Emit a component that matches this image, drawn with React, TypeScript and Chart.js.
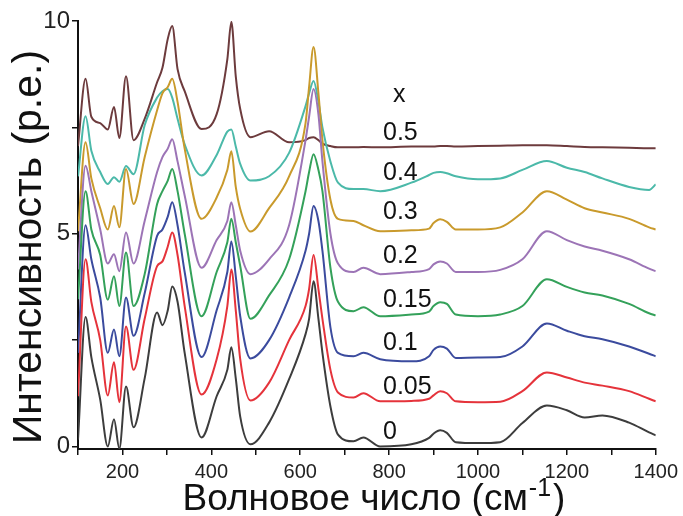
import React, { useEffect, useRef } from 'react';
import { Chart, registerables } from 'chart.js';

Chart.register(...registerables);

// ---- data ----
const wavenumbers = [100, 117, 130, 150, 167, 181, 193, 208, 225, 250, 278, 290, 302, 312, 324, 340, 378, 412, 436, 445, 455, 465, 488, 530, 575, 612, 620, 630, 641, 650, 668, 685, 720, 742, 780, 850, 890, 900, 915, 930, 950, 1000, 1050, 1100, 1155, 1200, 1240, 1280, 1340, 1385, 1400];

const spectrumX000 = [0.16, 3.04, 2.1, 1.1, 0.0, 0.64, -0.05, 1.41, 0.45, 1.6, 3.15, 2.85, 3.2, 3.76, 3.4, 2.2, 0.21, 1.18, 1.8, 2.33, 1.6, 0.7, 0.05, 0.56, 1.58, 2.64, 3.0, 3.88, 3.0, 2.2, 0.94, 0.28, 0.12, 0.21, 0.0, 0.05, 0.2, 0.3, 0.38, 0.32, 0.1, 0.08, 0.1, 0.55, 0.96, 0.85, 0.68, 0.73, 0.56, 0.33, 0.26];
const spectrumX005 = [1.18, 4.4, 3.4, 2.5, 1.2, 1.98, 1.04, 2.82, 1.8, 3.0, 4.24, 4.35, 4.7, 5.03, 4.5, 3.3, 1.22, 2.05, 3.3, 4.16, 3.2, 2.05, 1.08, 1.5, 2.5, 3.3, 3.7, 4.5, 3.7, 3.0, 1.8, 1.27, 1.15, 1.25, 1.06, 1.07, 1.12, 1.2, 1.3, 1.25, 1.06, 1.04, 1.05, 1.3, 1.74, 1.62, 1.5, 1.43, 1.3, 1.12, 1.06];
const spectrumX010 = [2.2, 5.2, 4.4, 3.5, 2.2, 2.75, 2.12, 3.5, 2.6, 3.6, 4.95, 5.1, 5.4, 5.74, 5.2, 4.1, 2.1, 3.2, 4.1, 4.82, 4.0, 3.06, 2.07, 2.5, 3.5, 4.6, 5.0, 5.65, 5.3, 4.6, 2.8, 2.2, 2.12, 2.2, 2.05, 2.0, 2.12, 2.27, 2.35, 2.3, 2.08, 2.09, 2.1, 2.35, 2.89, 2.72, 2.59, 2.52, 2.35, 2.18, 2.12];
const spectrumX015 = [3.46, 6.0, 5.1, 4.5, 3.45, 4.0, 3.3, 4.56, 3.3, 4.05, 5.7, 6.0, 6.25, 6.52, 6.0, 5.0, 3.06, 4.1, 4.8, 5.35, 4.8, 4.24, 3.0, 3.55, 4.4, 6.0, 6.45, 6.87, 6.5, 6.0, 4.2, 3.4, 3.18, 3.27, 3.06, 3.1, 3.17, 3.3, 3.39, 3.35, 3.1, 3.06, 3.1, 3.3, 3.93, 3.75, 3.62, 3.55, 3.35, 3.13, 3.08];
const spectrumX020 = [4.16, 6.6, 6.0, 5.1, 4.3, 4.52, 4.12, 5.03, 4.3, 5.3, 6.45, 6.8, 7.0, 7.22, 6.7, 5.9, 4.2, 4.85, 5.3, 5.74, 5.2, 4.6, 4.05, 4.4, 5.2, 7.2, 7.75, 8.4, 7.8, 6.7, 5.0, 4.3, 4.1, 4.2, 4.05, 4.1, 4.17, 4.28, 4.35, 4.3, 4.1, 4.1, 4.15, 4.4, 5.06, 4.85, 4.7, 4.6, 4.4, 4.18, 4.12];
const spectrumX030 = [5.06, 7.15, 6.3, 5.6, 5.1, 5.65, 5.15, 6.52, 5.7, 6.8, 7.9, 8.3, 8.45, 8.64, 8.1, 7.0, 5.35, 5.85, 6.5, 6.94, 6.1, 5.58, 5.05, 5.6, 6.35, 7.6, 8.45, 9.39, 8.3, 7.2, 5.8, 5.35, 5.3, 5.2, 5.06, 5.08, 5.12, 5.25, 5.34, 5.28, 5.1, 5.1, 5.15, 5.5, 6.0, 5.8, 5.6, 5.5, 5.35, 5.15, 5.1];
const spectrumX040 = [6.35, 7.76, 6.95, 6.45, 6.17, 6.33, 6.22, 6.59, 6.4, 7.55, 8.2, 8.35, 8.4, 8.2, 7.7, 7.1, 6.37, 6.85, 7.4, 7.45, 7.05, 6.64, 6.25, 6.35, 6.9, 8.0, 8.3, 8.59, 8.1, 7.5, 6.7, 6.2, 6.05, 6.05, 6.0, 6.2, 6.38, 6.43, 6.45, 6.42, 6.35, 6.28, 6.3, 6.5, 6.71, 6.55, 6.45, 6.3, 6.1, 6.03, 6.16];
const spectrumX050 = [7.06, 8.64, 7.75, 7.6, 7.45, 7.98, 7.25, 8.7, 7.2, 7.7, 8.56, 8.9, 9.58, 9.88, 8.87, 8.35, 7.46, 7.81, 9.1, 9.98, 8.7, 7.93, 7.27, 7.41, 7.15, 7.2, 7.25, 7.27, 7.2, 7.12, 7.06, 7.03, 7.03, 7.04, 7.03, 7.05, 7.05, 7.05, 7.06, 7.06, 7.05, 7.06, 7.07, 7.08, 7.08, 7.06, 7.04, 7.03, 7.02, 7.01, 7.01];

const compositions = ['0', '0.05', '0.1', '0.15', '0.2', '0.3', '0.4', '0.5'];
const spectra = [spectrumX000, spectrumX005, spectrumX010, spectrumX015, spectrumX020, spectrumX030, spectrumX040, spectrumX050];
const seriesColors = ['#3d3d3d', '#e5333b', '#3b4b9e', '#34a15a', '#9c74b6', '#c99a2c', '#4bb9a9', '#6d3b3d'];

const yTickValues = [0, 2.5, 5, 7.5, 10];
const yTickLabels = ['0', '', '5', '', '10'];
const xTitleMain = 'Волновое число (см';
const xTitleSup = '-1';
const xTitleEnd = ')';
const yTitle = 'Интенсивность (р.е.)';
const legendTitle = 'x';

// ---- layout / style ----
const FONT = '"Liberation Sans", Arial, Helvetica, sans-serif';
const W = 683;
const H = 516;
const LABEL_X = 383;
const LABEL_Y = [432, 387, 343, 300, 256, 212, 173, 133];
const LEGEND_TITLE_Y = 95;

const textPlugin = {
  id: 'textPlugin',
  afterDraw(chart: any) {
    const ctx = chart.ctx as CanvasRenderingContext2D;
    ctx.save();
    ctx.fillStyle = '#111';
    ctx.textBaseline = 'alphabetic';
    ctx.textAlign = 'left';

    // x-axis title with superscript
    ctx.font = `37px ${FONT}`;
    const w1 = ctx.measureText(xTitleMain).width;
    const w3 = ctx.measureText(xTitleEnd).width;
    ctx.font = `25px ${FONT}`;
    const w2 = ctx.measureText(xTitleSup).width;
    const total = w1 + w2 + w3 + 3;
    const sx = 374 - total / 2;
    ctx.font = `37px ${FONT}`;
    ctx.fillText(xTitleMain, sx, 510);
    ctx.font = `25px ${FONT}`;
    ctx.fillText(xTitleSup, sx + w1 + 1, 496);
    ctx.font = `37px ${FONT}`;
    ctx.fillText(xTitleEnd, sx + w1 + w2 + 3, 510);

    // y-axis title
    ctx.save();
    ctx.translate(41, 247);
    ctx.rotate(-Math.PI / 2);
    ctx.textAlign = 'center';
    ctx.font = `41px ${FONT}`;
    ctx.fillText(yTitle, 0, 0);
    ctx.restore();

    // series labels
    ctx.textBaseline = 'middle';
    ctx.textAlign = 'left';
    ctx.font = `25px ${FONT}`;
    ctx.fillText(legendTitle, LABEL_X + 10, LEGEND_TITLE_Y);
    compositions.forEach((c, i) => {
      ctx.fillText(c, LABEL_X, LABEL_Y[i]);
    });
    ctx.restore();
  },
};

export default function App() {
  const ref = useRef<HTMLCanvasElement | null>(null);

  useEffect(() => {
    if (!ref.current) return;
    const datasets = spectra.map((s, i) => ({
      label: compositions[i],
      data: wavenumbers.map((x, j) => ({ x, y: s[j] })),
      borderColor: seriesColors[i],
      backgroundColor: seriesColors[i],
      borderWidth: 2,
      pointRadius: 0,
      fill: false,
      cubicInterpolationMode: 'monotone' as const,
    }));

    const chart = new Chart(ref.current, {
      type: 'line',
      data: { datasets },
      options: {
        responsive: false,
        animation: false,
        maintainAspectRatio: false,
        layout: { padding: { left: 0, top: 21, right: 27, bottom: 0 } },
        plugins: {
          legend: { display: false },
          tooltip: { enabled: false },
          title: { display: false },
        },
        scales: {
          x: {
            type: 'linear',
            min: 100,
            max: 1400,
            afterFit: (scale: any) => {
              scale.height = H - 449;
            },
            border: { display: true, color: '#111', width: 2 },
            grid: { drawOnChartArea: false, drawTicks: true, tickLength: 6, color: '#111', lineWidth: 1.5 },
            ticks: {
              stepSize: 100,
              autoSkip: false,
              maxRotation: 0,
              padding: 5,
              color: '#222',
              font: { family: FONT, size: 20 },
              callback: (v: any) => (Number(v) % 200 === 0 ? String(v) : ''),
            },
          },
          y: {
            type: 'linear',
            min: -0.06,
            max: 10,
            afterFit: (scale: any) => {
              scale.width = 78;
            },
            afterBuildTicks: (scale: any) => {
              scale.ticks = yTickValues.map((v) => ({ value: v }));
            },
            border: { display: true, color: '#111', width: 2 },
            grid: { drawOnChartArea: false, drawTicks: true, tickLength: 6, color: '#111', lineWidth: 1.5 },
            ticks: {
              padding: 2,
              color: '#222',
              font: { family: FONT, size: 24 },
              callback: (v: any) => {
                const idx = yTickValues.indexOf(Number(v));
                return idx >= 0 ? yTickLabels[idx] : '';
              },
            },
          },
        },
      },
      plugins: [textPlugin],
    });
    return () => chart.destroy();
  }, []);

  return (
    <div style={{ position: 'absolute', left: 0, top: 0, width: W, height: H, background: '#fff' }}>
      <canvas ref={ref} width={W} height={H} style={{ display: 'block' }} />
    </div>
  );
}
